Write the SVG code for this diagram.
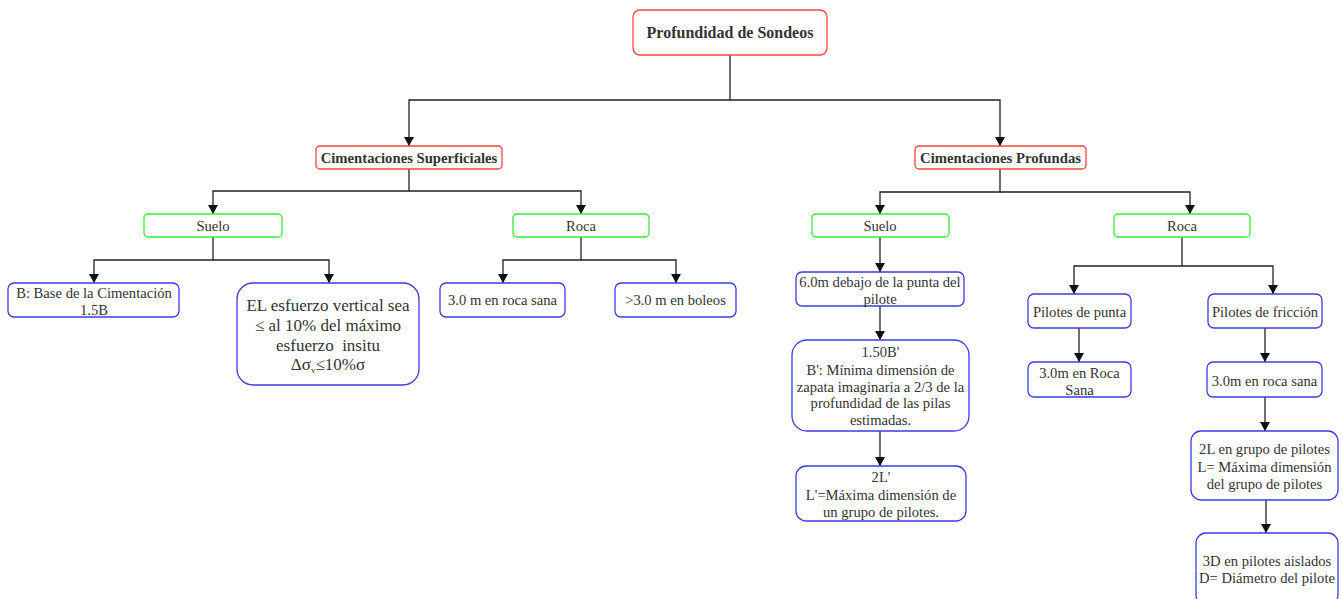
<svg xmlns="http://www.w3.org/2000/svg" width="1342" height="599" viewBox="0 0 1342 599">
<defs>
<marker id="arr" markerUnits="userSpaceOnUse" markerWidth="10" markerHeight="11" refX="9" refY="5" orient="auto">
<path d="M0,0 L9,5 L0,10 Z" fill="#111"/>
</marker>
<style>
.red{fill:#fff;stroke:#ff4444;stroke-width:1.3}
.grn{fill:#fff;stroke:#33ee33;stroke-width:1.3}
.blu{fill:#fff;stroke:#3b3be6;stroke-width:1.3}
text{font-family:"Liberation Serif","Times New Roman",serif;fill:#333;text-anchor:middle;font-size:14.6px}
.b{font-weight:bold;font-size:14.7px}
.big{font-size:17px}
.edge{fill:none;stroke:#222;stroke-width:1.3;marker-end:url(#arr)}
</style>
</defs>
<rect width="1342" height="599" fill="#fff"/>
<g id="connectors">
<path class="edge" d="M730 55 V100 H409 V146"/>
<path class="edge" d="M730 100 H1000 V146"/>
<path class="edge" d="M409 169 V191 H213 V214"/>
<path class="edge" d="M409 191 H581 V214"/>
<path class="edge" d="M213 237 V260 H94 V283"/>
<path class="edge" d="M213 260 H329 V283"/>
<path class="edge" d="M581 237 V260 H503 V283"/>
<path class="edge" d="M581 260 H676 V283"/>
<path class="edge" d="M1000 169 V192 H880 V214"/>
<path class="edge" d="M1000 192 H1190 V214"/>
<path class="edge" d="M880 237 V272"/>
<path class="edge" d="M880 306 V340"/>
<path class="edge" d="M880 431 V466"/>
<path class="edge" d="M1182 237 V266 H1074 V294"/>
<path class="edge" d="M1182 266 H1273 V294"/>
<path class="edge" d="M1079 328 V362"/>
<path class="edge" d="M1265 328 V362"/>
<path class="edge" d="M1265 397 V431"/>
<path class="edge" d="M1266 500 V533"/>
</g>
<g id="root">
<rect class="red" x="633" y="10" width="194" height="45" rx="7"/>
<text class="b" x="730" y="38" style="font-size:16px">Profundidad de Sondeos</text>
</g>
<g id="cim-sup">
<rect class="red" x="316" y="146" width="186" height="23" rx="4"/>
<text class="b" x="409" y="162.5">Cimentaciones Superficiales</text>
</g>
<g id="cim-prof">
<rect class="red" x="915" y="146" width="171" height="23" rx="4"/>
<text class="b" x="1000.5" y="162.5">Cimentaciones Profundas</text>
</g>
<g id="suelo-sup">
<rect class="grn" x="144" y="214" width="138" height="23" rx="4"/>
<text x="213" y="230.5">Suelo</text>
</g>
<g id="roca-sup">
<rect class="grn" x="513" y="214" width="136" height="23" rx="4"/>
<text x="581" y="230.5">Roca</text>
</g>
<g id="suelo-prof">
<rect class="grn" x="812" y="214" width="137" height="23" rx="4"/>
<text x="880" y="230.5">Suelo</text>
</g>
<g id="roca-prof">
<rect class="grn" x="1114" y="214" width="136" height="23" rx="4"/>
<text x="1182" y="230.5">Roca</text>
</g>
<g id="base-cim">
<rect class="blu" x="8" y="283" width="171" height="34" rx="6"/>
<text x="94" y="298">B: Base de la Cimentación</text>
<text x="94" y="315">1.5B</text>
</g>
<g id="esfuerzo">
<rect class="blu" x="237" y="283" width="182" height="102" rx="16"/>
<text class="big" x="328" y="311">EL esfuerzo vertical sea</text>
<text class="big" x="328" y="331">≤ al 10% del máximo</text>
<text class="big" x="328" y="351" xml:space="preserve">esfuerzo  insitu</text>
<text class="big" x="328" y="370">Δσ<tspan style="font-size:9px" dy="3">v</tspan><tspan dy="-3">≤10%σ</tspan></text>
</g>
<g id="roca-sana-sup">
<rect class="blu" x="440" y="283" width="125" height="34" rx="6"/>
<text x="502.5" y="305">3.0 m en roca sana</text>
</g>
<g id="boleos">
<rect class="blu" x="615" y="283" width="121" height="34" rx="6"/>
<text x="675.5" y="305">&gt;3.0 m en boleos</text>
</g>
<g id="seis-m">
<rect class="blu" x="796" y="272" width="168" height="34" rx="6"/>
<text x="880" y="287">6.0m debajo de la punta del</text>
<text x="880" y="304">pilote</text>
</g>
<g id="b-prima">
<rect class="blu" x="792" y="340" width="177" height="91" rx="15"/>
<text x="880.5" y="357">1.50B'</text>
<text x="880.5" y="374.5">B': Mínima dimensión de</text>
<text x="880.5" y="391.5">zapata imaginaria a 2/3 de la</text>
<text x="880.5" y="408">profundidad de las pilas</text>
<text x="880.5" y="425">estimadas.</text>
</g>
<g id="l-prima">
<rect class="blu" x="796" y="466" width="170" height="55" rx="10"/>
<text x="881" y="482">2L'</text>
<text x="881" y="500">L'=Máxima dimensión de</text>
<text x="881" y="517">un grupo de pilotes.</text>
</g>
<g id="pilotes-punta">
<rect class="blu" x="1028" y="294" width="103" height="34" rx="6"/>
<text x="1079.5" y="317">Pilotes de punta</text>
</g>
<g id="pilotes-friccion">
<rect class="blu" x="1208" y="294" width="114" height="34" rx="6"/>
<text x="1265" y="317">Pilotes de fricción</text>
</g>
<g id="roca-sana-punta">
<rect class="blu" x="1028" y="362" width="103" height="35" rx="6"/>
<text x="1079.5" y="378">3.0m en Roca</text>
<text x="1079.5" y="395">Sana</text>
</g>
<g id="roca-sana-friccion">
<rect class="blu" x="1207" y="362" width="115" height="35" rx="6"/>
<text x="1264.5" y="386">3.0m en roca sana</text>
</g>
<g id="grupo-pilotes">
<rect class="blu" x="1191" y="431" width="147" height="69" rx="10"/>
<text x="1264.5" y="454">2L en grupo de pilotes</text>
<text x="1264.5" y="472">L= Máxima dimensión</text>
<text x="1264.5" y="489">del grupo de pilotes</text>
</g>
<g id="pilotes-aislados">
<rect class="blu" x="1196" y="533" width="142" height="72" rx="10"/>
<text x="1267" y="566">3D en pilotes aislados</text>
<text x="1267" y="583">D= Diámetro del pilote</text>
</g>
</svg>
